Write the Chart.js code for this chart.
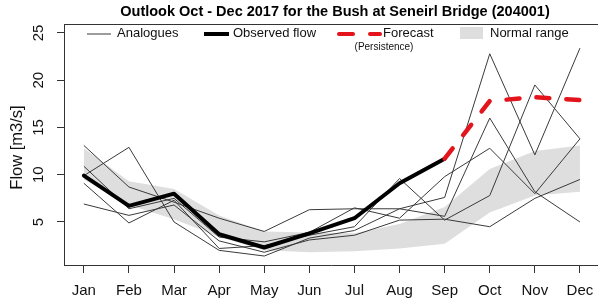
<!DOCTYPE html>
<html>
<head>
<meta charset="utf-8">
<script src="https://cdn.jsdelivr.net/npm/chart.js@4.4.1/dist/chart.umd.min.js"></script>
<style>
  html, body { margin: 0; padding: 0; background: #fff; }
</style>
</head>
<body>
<canvas id="flowChart" width="598" height="301"></canvas>
<script>
const months = ['Jan', 'Feb', 'Mar', 'Apr', 'May', 'Jun', 'Jul', 'Aug', 'Sep', 'Oct', 'Nov', 'Dec'];
const yTicks = [5, 10, 15, 20, 25];

// observed flow Jan - Sep, forecast Sep - Dec
const observed = [9.9, 6.7, 8.0, 3.7, 2.3, 3.8, 5.4, 9.1, 11.7];
const forecast = [11.7, 17.8, 18.2, 17.9];
const forecastStart = 8;

// normal range band
const normalUpper = [12.8, 9.3, 8.5, 5.7, 4.0, 3.9, 3.8, 4.8, 6.6, 10.6, 12.5, 13.1];
const normalLower = [9.5, 6.8, 5.3, 3.4, 2.0, 1.8, 1.9, 2.2, 2.7, 6.0, 7.8, 8.2];

// analogue years
const analogue1 = [9.9, 12.9, 5.0, 2.0, 1.4, 3.3, 4.1, 6.4, 7.6, 22.8, 12.1, 23.4];
const analogue2 = [13.1, 8.7, 7.1, 5.4, 4.0, 6.3, 6.4, 6.4, 5.6, 16.0, 8.2, 5.0];
const analogue3 = [10.9, 6.4, 7.5, 3.4, 2.9, 3.9, 6.5, 5.4, 9.8, 12.8, 8.0, 13.8];
const analogue4 = [9.1, 4.9, 7.3, 2.2, 2.5, 3.6, 4.5, 9.6, 5.2, 7.8, 19.5, 13.8];
const analogue5 = [6.9, 5.7, 6.8, 3.0, 1.8, 3.1, 3.6, 5.2, 5.3, 4.5, 7.5, 9.5];

const FONT = '"Liberation Sans", Arial, sans-serif';
const toPts = (arr, start) => arr.map((v, i) => ({ x: (start || 0) + i, y: v }));

function analogueSet(arr) {
  return {
    data: toPts(arr),
    borderColor: '#3a3a3a',
    borderWidth: 1,
    pointRadius: 0,
    fill: false
  };
}

const extras = {
  id: 'extras',
  afterDraw(chart) {
    const ctx = chart.ctx;
    const a = chart.chartArea;
    const ys = chart.scales.y;
    ctx.save();
    // title
    ctx.fillStyle = '#000';
    ctx.font = 'bold 14.5px ' + FONT;
    ctx.textAlign = 'center';
    ctx.textBaseline = 'middle';
    ctx.fillText('Outlook Oct - Dec 2017 for the Bush at Seneirl Bridge (204001)', 335, 12);

    // top border of the box
    ctx.strokeStyle = '#333';
    ctx.lineWidth = 1;
    ctx.beginPath();
    ctx.moveTo(a.left, a.top + 0.5);
    ctx.lineTo(chart.width, a.top + 0.5);
    ctx.stroke();

    // rotated y tick labels
    ctx.fillStyle = '#111';
    ctx.font = '15px ' + FONT;
    yTicks.forEach(t => {
      ctx.save();
      ctx.translate(39, ys.getPixelForValue(t));
      ctx.rotate(-Math.PI / 2);
      ctx.fillText(String(t), 0, 0);
      ctx.restore();
    });

    // y axis title
    ctx.save();
    ctx.font = '16.5px ' + FONT;
    ctx.translate(17, (a.top + a.bottom) / 2 + 3);
    ctx.rotate(-Math.PI / 2);
    ctx.fillText('Flow [m3/s]', 0, 0);
    ctx.restore();

    // legend
    const ly = 34;
    ctx.font = '13px ' + FONT;
    ctx.textAlign = 'left';
    ctx.lineCap = 'butt';
    ctx.strokeStyle = '#3a3a3a';
    ctx.lineWidth = 1;
    ctx.beginPath(); ctx.moveTo(87, ly); ctx.lineTo(111, ly); ctx.stroke();
    ctx.fillText('Analogues', 117, ly - 1);

    ctx.strokeStyle = '#000';
    ctx.lineWidth = 4;
    ctx.beginPath(); ctx.moveTo(204, ly); ctx.lineTo(229, ly); ctx.stroke();
    ctx.fillText('Observed flow', 233, ly - 1);

    ctx.strokeStyle = '#e3141b';
    ctx.lineCap = 'round';
    ctx.beginPath(); ctx.moveTo(339, ly); ctx.lineTo(353, ly); ctx.stroke();
    ctx.beginPath(); ctx.moveTo(370, ly); ctx.lineTo(380, ly); ctx.stroke();
    ctx.fillText('Forecast', 383, ly - 1);
    ctx.font = '10px ' + FONT;
    ctx.textAlign = 'center';
    ctx.fillText('(Persistence)', 384, 47);

    ctx.fillStyle = '#dedede';
    ctx.fillRect(460, 27, 23, 12);
    ctx.fillStyle = '#111';
    ctx.font = '13px ' + FONT;
    ctx.textAlign = 'left';
    ctx.fillText('Normal range', 490, ly - 1);
    ctx.restore();
  }
};

new Chart(document.getElementById('flowChart'), {
  type: 'line',
  data: {
    datasets: [
      {
        data: toPts(forecast, forecastStart),
        borderColor: '#e3141b',
        borderWidth: 4.5,
        borderDash: [13, 17],
        borderCapStyle: 'round',
        borderJoinStyle: 'round',
        pointRadius: 0,
        fill: false
      },
      {
        data: toPts(observed),
        borderColor: '#000',
        borderWidth: 4,
        borderCapStyle: 'round',
        borderJoinStyle: 'round',
        pointRadius: 0,
        fill: false
      },
      analogueSet(analogue1),
      analogueSet(analogue2),
      analogueSet(analogue3),
      analogueSet(analogue4),
      analogueSet(analogue5),
      {
        data: toPts(normalUpper),
        borderWidth: 0,
        borderColor: 'rgba(0,0,0,0)',
        backgroundColor: '#dedede',
        pointRadius: 0,
        fill: '+1'
      },
      {
        data: toPts(normalLower),
        borderWidth: 0,
        borderColor: 'rgba(0,0,0,0)',
        pointRadius: 0,
        fill: false
      }
    ]
  },
  options: {
    responsive: false,
    animation: false,
    events: [],
    layout: { padding: { left: 0, right: 0, top: 24, bottom: 0 } },
    plugins: {
      legend: { display: false },
      tooltip: { enabled: false },
      title: { display: false }
    },
    scales: {
      x: {
        type: 'linear',
        min: -0.44,
        max: 11.4,
        afterFit: s => { s.height = 36; s.paddingLeft = 0; s.paddingRight = 0; },
        afterBuildTicks: s => { s.ticks = months.map((m, i) => ({ value: i })); },
        grid: { drawOnChartArea: false, tickLength: 8, color: '#333', tickColor: '#333' },
        border: { display: true, color: '#333', width: 1 },
        ticks: {
          autoSkip: false,
          maxRotation: 0,
          padding: 9,
          color: '#111',
          font: { family: FONT, size: 15 },
          callback: v => months[v]
        }
      },
      y: {
        min: 0.45,
        max: 25.95,
        afterFit: s => { s.width = 64; s.paddingTop = 0; s.paddingBottom = 0; },
        afterBuildTicks: s => { s.ticks = yTicks.map(v => ({ value: v })); },
        grid: { drawOnChartArea: false, tickLength: 7, color: '#333', tickColor: '#333' },
        border: { display: true, color: '#333', width: 1 },
        ticks: { display: false }
      }
    }
  },
  plugins: [extras]
});
</script>
</body>
</html>
